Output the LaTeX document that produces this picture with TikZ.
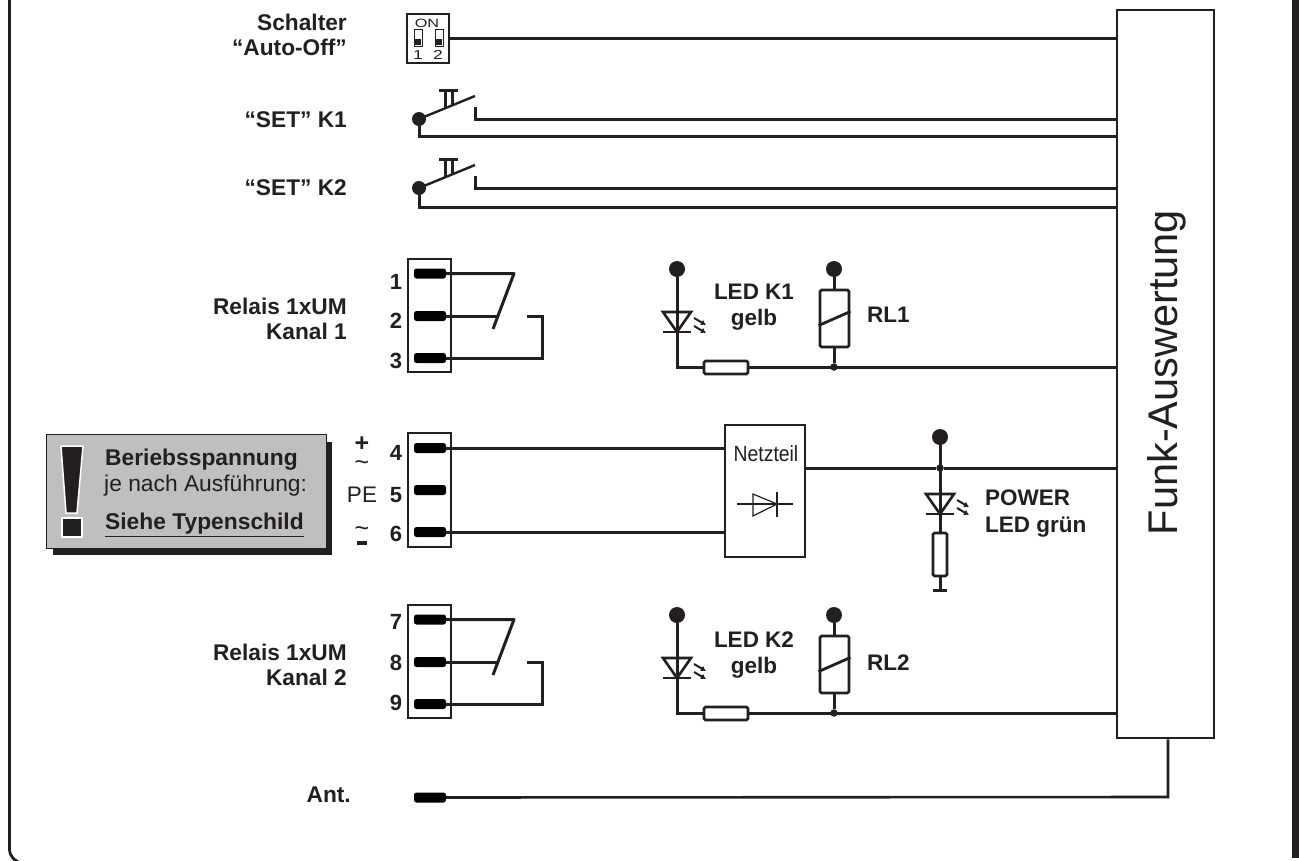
\documentclass[tikz,border=0pt]{standalone}
\usepackage{fontspec}
\setmainfont{Liberation Sans}
\usetikzlibrary{arrows.meta}
\definecolor{inkBlack}{HTML}{231F20}
\definecolor{plateGrey}{HTML}{BFBFBF}
\begin{document}
\begin{tikzpicture}[%%
  x=1pt,y=-1pt,%%
  inkBlack,%%
  lineStyle/.style={-,draw=inkBlack,line width=3pt},%%
  thinStyle/.style={-,draw=inkBlack,line width=1.2pt},%%
  boxStyle/.style={draw=inkBlack,line width=2.8pt,fill=white,inner sep=0pt},%%
  pinStyle/.style={draw=none,fill=black,rounded corners=2.5pt,minimum width=32pt,minimum height=10pt,inner sep=0pt},%%
  dotStyle/.style={circle,fill=inkBlack,inner sep=0pt,minimum size=16pt},%%
  juncStyle/.style={circle,fill=inkBlack,inner sep=0pt,minimum size=7.5pt},%%
  nameStyle/.style={align=right,anchor=east,inner sep=0pt,font=\fontsize{22.7}{25.5}\selectfont\bfseries},%%
  numStyle/.style={font=\fontsize{22}{24}\selectfont\bfseries,inner sep=0pt},%%
  ledText/.style={align=center,inner sep=0pt,font=\fontsize{22.5}{26}\selectfont\bfseries},%%
  sideText/.style={align=left,anchor=west,inner sep=0pt,font=\fontsize{22.5}{27}\selectfont\bfseries},%%
  plateText/.style={anchor=west,inner sep=0pt,font=\fontsize{22.8}{25}\selectfont},%%
  ledPic/.pic={%%
    \draw[lineStyle,line width=2.6pt,line join=miter] (-14,-20) -- (14,-20) -- (0,0) -- cycle;
    \draw[lineStyle,line width=2.6pt] (-14,0) -- (14,0);
    \foreach \ry in {-14,-6}
      \draw[-{Latex[length=5pt,width=6pt]},draw=inkBlack,line width=2pt] (17,\ry) -- (29,\ry+7);
  }%%
]
%%
\useasboundingbox (0,0) rectangle (1299,860);
%%
\pgfmathsetmacro{\xblock}{429.5}
\pgfmathsetmacro{\xpin}{430}
\pgfmathsetmacro{\xlabel}{347}
%%
%% The outer frame.
\draw[lineStyle,line width=2.8pt,rounded corners=14pt] (9.5,-20) -- (9.5,863) -- (1295,863);
\draw[draw=inkBlack,line width=7pt] (1295.5,-20) -- (1295.5,858);
%%
%% The evaluation unit.
\node[boxStyle,minimum width=97pt,minimum height=728pt] (funk) at (1165.5,374) {};
\node[rotate=90,anchor=base,font=\fontsize{41.5}{44}\selectfont,inner sep=0pt] (funkText) at (1177,372.5) {Funk-Auswertung};
%%
%% The DIP switch.
\node[boxStyle,line width=1.6pt,minimum width=42pt,minimum height=49pt] (dip) at (428,38.5) {};
\node[inner sep=0pt,font=\fontsize{12}{13}\selectfont] (dipOn) at (427,23) {\scalebox{1.35}[1]{ON}};
\node[inner sep=0pt,font=\fontsize{13}{14}\selectfont] (dipOne) at (418,55) {\scalebox{1.35}[1]{1}};
\node[inner sep=0pt,font=\fontsize{13}{14}\selectfont] (dipTwo) at (438,55) {\scalebox{1.35}[1]{2}};
\foreach \sx in {414,435} {
  \draw[draw=inkBlack,line width=0.8pt] (\sx,29) rectangle (\sx+8,46);
  \fill[inkBlack] (\sx+1,39) rectangle (\sx+7,45);
}
\draw[lineStyle] (dip.east) -- (dip.east -| funk.west);
\node[nameStyle] (autoOff) at (\xlabel,35) {Schalter\\``Auto-Off''};
%%
%% The two SET keys.
\foreach \k/\ky/\klow/\kname in {1/0/136/120,2/69/138/119} {
  \begin{scope}[shift={(0,\ky)}]
    \node[dotStyle,minimum size=14pt] (keyDot\k) at (419,119) {};
    \coordinate (keyTip\k) at (475,96);
    \coordinate (keyOut\k) at (475,107);
    \coordinate (keyBend\k) at (475,119);
    \coordinate (keyLow\k) at (419,\klow);
    \draw[lineStyle,line width=2.4pt] (keyDot\k.center) -- (keyTip\k);
    \draw[lineStyle] (keyOut\k) -- (keyBend\k) -- (keyBend\k -| funk.west);
    \draw[lineStyle] (keyDot\k) -- (keyLow\k) -- (keyLow\k -| funk.west);
    \draw[lineStyle] (445,108) -- (445,90);
    \draw[lineStyle] (452,105) -- (452,90);
    \draw[lineStyle] (439,90) -- (458,90);
    \node[nameStyle] (setName\k) at (\xlabel,\kname) {``SET'' K\k};
  \end{scope}
}
%%
%% Relays, yellow LEDs and relay coils.
\foreach \k/\ky/\numA/\numB/\numC/\oA/\oB/\oC/\oL/\oR in {1/0/1/2/3/282/321/361/307/315,2/346/7/8/9/276/317/357/309.5/317} {
  \begin{scope}[shift={(0,\ky)}]
    \node[boxStyle,fill=none,minimum width=43pt,minimum height=113pt] (block\k) at (\xblock,315.5) {};
    \node[pinStyle] (pin\k a) at (\xpin,273.5) {};
    \node[pinStyle] (pin\k b) at (\xpin,316) {};
    \node[pinStyle] (pin\k c) at (\xpin,358) {};
    \node[numStyle] (num\k a) at (396,\oA) {\numA};
    \node[numStyle] (num\k b) at (396,\oB) {\numB};
    \node[numStyle] (num\k c) at (396,\oC) {\numC};
    \coordinate (bladeTop\k) at (514,273.5);
    \coordinate (bladeEnd\k) at (493,329);
    \coordinate (bladeJoin\k) at (497,316);
    \coordinate (nc\k) at (527,316);
    \coordinate (ncBend\k) at (542,316);
    \coordinate (ncLow\k) at (542,358);
    \draw[lineStyle,line join=round] (pin\k a) -- (bladeTop\k) -- (bladeEnd\k);
    \draw[lineStyle] (pin\k b) -- (bladeJoin\k);
    \draw[lineStyle] (nc\k) -- (ncBend\k) -- (ncLow\k) -- (pin\k c);
    \node[nameStyle] (relName\k) at (\xlabel,319) {Relais 1xUM\\Kanal \k};
    %% LED branch.
    \node[dotStyle] (ledDot\k) at (677,269) {};
    \node[dotStyle] (coilDot\k) at (834,269) {};
    \coordinate (ledApex\k) at (677,332);
    \coordinate (ledFoot\k) at (677,367);
    \node[juncStyle] (coilJunc\k) at (834,367) {};
    \draw[lineStyle] (ledDot\k) -- (ledFoot\k) -- (ledFoot\k -| funk.west);
    \draw[lineStyle] (coilDot\k) -- (coilJunc\k);
    \path (ledApex\k) pic {ledPic};
    \node[boxStyle,rounded corners=1.5pt,minimum width=44pt,minimum height=13pt] (ledRes\k) at (726,367.5) {};
    \node[boxStyle,rounded corners=1.5pt,minimum width=29pt,minimum height=57pt] (coil\k) at (834.5,318.5) {};
    \draw[lineStyle,line width=2.8pt] ([yshift=-7pt]coil\k.west) -- ([yshift=7pt]coil\k.east);
    \node[ledText] (ledName\k) at (754,\oL) {LED K\k\\gelb};
    \node[sideText] (coilName\k) at (867,\oR) {RL\k};
  \end{scope}
}
%%
%% The supply terminal.
\node[boxStyle,fill=none,minimum width=43pt,minimum height=114pt] (blockP) at (\xblock,490) {};
\node[pinStyle] (pinPa) at (\xpin,448) {};
\node[pinStyle] (pinPb) at (\xpin,490) {};
\node[pinStyle] (pinPc) at (\xpin,532) {};
\node[numStyle] (numPa) at (396,453) {4};
\node[numStyle] (numPb) at (396,495) {5};
\node[numStyle] (numPc) at (396,534) {6};
\node[inner sep=0pt,font=\fontsize{25}{27}\selectfont\bfseries] (plusP) at (362,444) {+};
\node[inner sep=0pt,font=\fontsize{25}{27}\selectfont] (acOneP) at (362,466) {\textasciitilde};
\node[inner sep=0pt,font=\fontsize{22.5}{24}\selectfont] (peP) at (362,495) {PE};
\node[inner sep=0pt,font=\fontsize{25}{27}\selectfont] (acTwoP) at (362,532) {\textasciitilde};
\node[draw=none,fill=inkBlack,minimum width=10pt,minimum height=3.5pt,inner sep=0pt] (minusP) at (362,543) {};
%%
%% The power supply.
\node[boxStyle,minimum width=80pt,minimum height=132pt] (psu) at (765,491) {};
\node[inner sep=0pt,font=\fontsize{22}{24}\selectfont] (psuText) at (766,454) {\scalebox{0.88}[1]{Netzteil}};
\draw[lineStyle] (pinPa) -- (pinPa -| psu.west);
\draw[lineStyle] (pinPc) -- (pinPc -| psu.west);
\coordinate (diodeIn) at (737,504);
\coordinate (diodeOut) at (793,504);
\draw[thinStyle] (diodeIn) -- (diodeOut);
\draw[thinStyle] (753,494) -- (753,516) -- (777,504) -- cycle;
\draw[thinStyle] (777,492) -- (777,517);
%%
%% The green LED.
\node[dotStyle] (powerDot) at (940,437) {};
\node[juncStyle] (powerJunc) at (940,468) {};
\coordinate (powerFoot) at (940,590);
\draw[lineStyle] (psu.east |- powerJunc) -- (powerJunc) -- (powerJunc -| funk.west);
\draw[lineStyle] (powerDot) -- (powerFoot);
\draw[lineStyle] (933,590) -- (947,590);
\path (940,514) pic {ledPic};
\node[boxStyle,rounded corners=1.5pt,minimum width=14pt,minimum height=43pt] (powerRes) at (940,554.5) {};
\node[sideText] (powerName) at (985,514) {POWER\\LED grün};
%%
%% The antenna.
\node[pinStyle] (pinAnt) at (\xpin,797.5) {};
\coordinate (antBend) at (1168,797);
\draw[lineStyle,line width=2.6pt] (pinAnt) -- (antBend) -- (antBend |- funk.south);
\node[nameStyle] (antName) at (351,795) {Ant.};
%%
%% The warning plate.
\fill[inkBlack] (53,442) rectangle (332,555);
\node[fill=plateGrey,draw=inkBlack,line width=1pt,minimum width=280pt,minimum height=114pt,inner sep=0pt] (plate) at (186,491) {};
\fill[inkBlack,draw=white,line width=1.5pt] (61,446) -- (83,446) -- (77,513) -- (66,513) -- cycle;
\fill[inkBlack,draw=white,line width=1.5pt] (62,518) rectangle (82,537);
\node[plateText] (plateA) at (105,460) {\bfseries Beriebsspannung};
\node[plateText] (plateB) at (104,486) {je nach Ausführung:};
\node[plateText] (plateC) at (105,525) {\bfseries\underline{Siehe Typenschild}};
\end{tikzpicture}
\end{document}
